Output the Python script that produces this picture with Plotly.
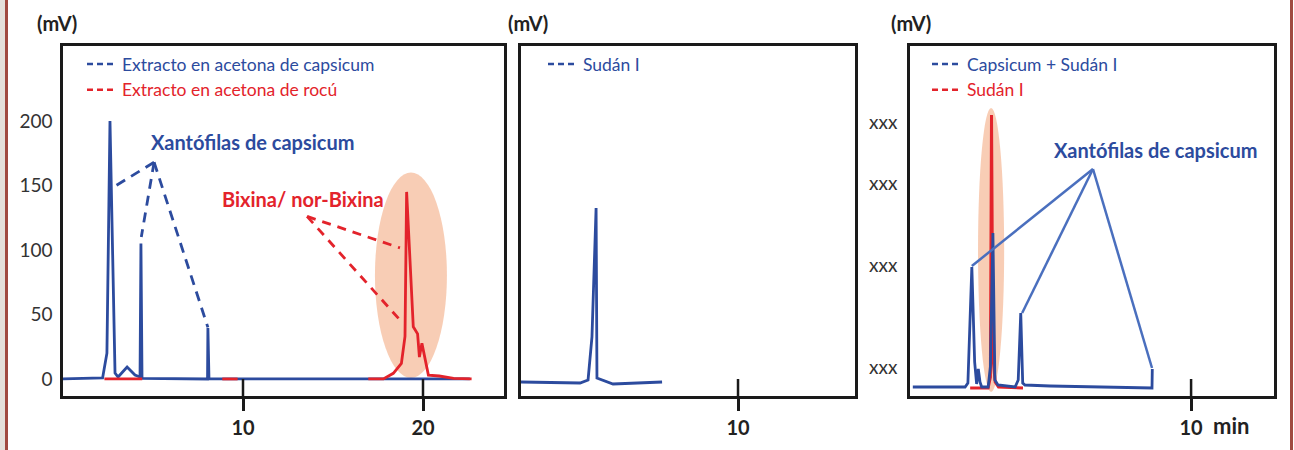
import plotly.graph_objects as go

# ---------------- data ----------------
# Panel 1: chromatograms (time in min, signal in mV)
p1_capsicum_t = [0, 2.2, 2.44, 2.61, 2.89, 3.06, 3.56, 4.0, 4.28, 4.33, 4.39, 8.03, 8.05, 8.11, 22.6]
p1_capsicum_mv = [0, 0.8, 20, 200, 4.6, 1.5, 9.3, 3, 1.5, 105, 0.5, 0, 39.5, 0, 0]
p1_rocu_t = [2.3, 4.4, None, 8.85, 9.7, None, 16.96, 17.8, 18.35, 18.8, 19.0, 19.09, 19.46, 19.7, 19.8, 19.94, 20.3, 20.9, 21.7, 22.7]
p1_rocu_mv = [0, 0, None, 0, 0, None, 0, 0, 4.4, 12, 33, 145, 40.5, 35, 17, 27.6, 3, 2.3, 0.5, 0]
p1_yticks = [0, 50, 100, 150, 200]
p1_xticks = [10, 20]

# Panel 2: Sudán I standard
p2_sudan_t = [0, 2.72, 3.09, 3.27, 3.46, 3.5, 4.24, 6.5]
p2_sudan_mv = [0, -1, 2, 45, 174, 4, -2, 0]
p2_xticks = [10]

# Panel 3: capsicum + Sudán I
p3_mix_t = [0.1, 1.96, 2.06, 2.2, 2.3, 2.37, 2.43, 2.49, 2.55, 2.78, 2.86, 2.95, 3.02, 3.13, 3.74, 3.85, 3.94, 4.01, 4.09, 4.98, 8.61, 8.62]
p3_mix_mv = [0, 0, 4, 120, 25, 3, 18, 5, 0, 0, 20, 154, 7, 2, 0, 7, 74, 4, 2, 1, -1, 18]
p3_sudan_t = [2.14, 2.78, 2.86, 2.9, 2.95, 3.03, 3.15, 4.02]
p3_sudan_mv = [-1, -1, 10, 272, 30, 5, 0, -1]
p3_yticks = [20, 122, 204, 265]
p3_ytext = ["xxx", "xxx", "xxx", "xxx"]
p3_xticks = [10]

# callout leader lines (label apex -> peaks)
p1_xan_apex = (5.06, 168)
p1_xan_targets = [(2.6, 147), (4.35, 110), (8.05, 40)]
p1_bix_apex = (13.56, 126)
p1_bix_targets = [(18.72, 101.6), (18.72, 45.7)]
p3_xan_apex = (6.51, 218)
p3_xan_targets = [(2.2, 121), (3.99, 74), (8.61, 19)]

# ---------------- styles ----------------
BLUE = "#2c4b9e"
LBLUE = "#4a6fbe"
RED = "#e3232b"
PEACH = "rgba(247,196,168,0.85)"
FONT = "Lato, 'Open Sans', sans-serif"
DASH_LEG = "6px,4px"

fig = go.Figure()

# data traces
fig.add_trace(go.Scatter(x=p1_capsicum_t, y=p1_capsicum_mv, mode="lines", line=dict(color=BLUE, width=2.8),
                         xaxis="x", yaxis="y", showlegend=False, hoverinfo="skip"))
fig.add_trace(go.Scatter(x=p1_rocu_t, y=p1_rocu_mv, mode="lines", line=dict(color=RED, width=2.8),
                         xaxis="x", yaxis="y", showlegend=False, hoverinfo="skip", connectgaps=False))
fig.add_trace(go.Scatter(x=p2_sudan_t, y=p2_sudan_mv, mode="lines", line=dict(color=BLUE, width=2.8),
                         xaxis="x2", yaxis="y2", showlegend=False, hoverinfo="skip"))
fig.add_trace(go.Scatter(x=p3_sudan_t, y=p3_sudan_mv, mode="lines", line=dict(color=RED, width=3),
                         xaxis="x3", yaxis="y3", showlegend=False, hoverinfo="skip"))
fig.add_trace(go.Scatter(x=p3_mix_t, y=p3_mix_mv, mode="lines", line=dict(color=BLUE, width=2.8),
                         xaxis="x3", yaxis="y3", showlegend=False, hoverinfo="skip"))

# leader lines
def leaders(apex, targets, xa, ya, color, dash, width):
    for tx, ty in targets:
        fig.add_trace(go.Scatter(x=[apex[0], tx], y=[apex[1], ty], mode="lines",
                                 line=dict(color=color, width=width, dash=dash),
                                 xaxis=xa, yaxis=ya, showlegend=False, hoverinfo="skip"))

leaders(p1_xan_apex, p1_xan_targets, "x", "y", BLUE, "10px,7px", 2.8)
leaders(p1_bix_apex, p1_bix_targets, "x", "y", RED, "9px,7px", 2.8)
leaders(p3_xan_apex, p3_xan_targets, "x3", "y3", LBLUE, "solid", 2.5)

# legend entries
def leg(name, color, legend):
    fig.add_trace(go.Scatter(x=[None], y=[None], mode="lines", name=name,
                             line=dict(color=color, width=2.5, dash=DASH_LEG), legend=legend))

leg("Extracto en acetona de capsicum", BLUE, "legend")
leg(f"<span style='color:{RED}'>Extracto en acetona de rocú</span>", RED, "legend")
leg("Sudán I", BLUE, "legend2")
leg("Capsicum + Sudán I", BLUE, "legend3")
leg(f"<span style='color:{RED}'>Sudán I</span>", RED, "legend3")

W, H = 1294, 450
ydom = [1 - 396 / H, 1 - 46 / H]
doms = [[63 / W, 504 / W], [521 / W, 855 / W], [910 / W, 1274 / W]]

axis_common = dict(showline=True, mirror=True, linecolor="#1a1a1a", linewidth=2.5,
                   showgrid=False, zeroline=False)
xaxis_common = dict(axis_common, ticks="outside", ticklen=12, tickwidth=2.5, tickcolor="#1a1a1a",
                    tickfont=dict(family=FONT, size=20, color="#222", weight="bold"),
                    ticklabelstandoff=0)

legend_common = dict(bgcolor="rgba(0,0,0,0)", borderwidth=0, xanchor="left", yanchor="top",
                     font=dict(family=FONT, size=17.5, color=BLUE), itemwidth=30, tracegroupgap=0)

fig.update_layout(
    width=W, height=H, autosize=False,
    margin=dict(l=0, r=0, t=0, b=0),
    paper_bgcolor="white", plot_bgcolor="white",
    font=dict(family=FONT, color="#222"),
    xaxis=dict(xaxis_common, domain=doms[0], range=[0, 24.5], tickvals=p1_xticks, anchor="y"),
    yaxis=dict(axis_common, domain=ydom, range=[-13.2, 258.1], tickvals=p1_yticks, ticks="",
               tickfont=dict(family=FONT, size=19, color="#333"), anchor="x", ticklabelstandoff=4),
    xaxis2=dict(xaxis_common, domain=doms[1], range=[0, 15.39], tickvals=p2_xticks, anchor="y2"),
    yaxis2=dict(axis_common, domain=ydom, range=[-14, 336], showticklabels=False, ticks="", anchor="x2"),
    xaxis3=dict(xaxis_common, domain=doms[2], range=[0, 12.95], tickvals=p3_xticks, anchor="y3"),
    yaxis3=dict(axis_common, domain=ydom, range=[-9, 341], tickvals=p3_yticks, ticktext=p3_ytext,
                ticks="", tickfont=dict(family=FONT, size=19, color="#333"), anchor="x3", ticklabelstandoff=6),
    legend=dict(legend_common, x=82 / W, y=1 - 46 / H),
    legend2=dict(legend_common, x=543 / W, y=1 - 46 / H),
    legend3=dict(legend_common, x=927 / W, y=1 - 46 / H),
)

shapes = []
# peach highlight ellipses
shapes.append(dict(type="circle", xref="x", yref="y", x0=17.33, x1=21.33, y0=0.8, y1=160,
                   fillcolor=PEACH, line=dict(width=0), layer="below"))
shapes.append(dict(type="circle", xref="x3", yref="y3", x0=2.42, x1=3.35, y0=-5, y1=279,
                   fillcolor=PEACH, line=dict(width=0), layer="below"))
# inner part of the crossing x ticks
for xa, ya, ticks in [("x", "y", p1_xticks), ("x2", "y2", p2_xticks), ("x3", "y3", p3_xticks)]:
    for t in ticks:
        shapes.append(dict(type="line", xref=xa, yref=f"{ya} domain", x0=t, x1=t, y0=0, y1=17 / 350,
                           line=dict(color="#1a1a1a", width=2.5)))
# page frame
shapes.append(dict(type="rect", xref="paper", yref="paper", x0=0, x1=5 / W, y0=0, y1=1,
                   fillcolor="#e4e0da", line=dict(width=0)))
shapes.append(dict(type="line", xref="paper", yref="paper", x0=6.5 / W, x1=6.5 / W, y0=0, y1=1,
                   line=dict(color="#a04a40", width=3)))
shapes.append(dict(type="line", xref="paper", yref="paper", x0=1291.5 / W, x1=1291.5 / W, y0=0, y1=1,
                   line=dict(color="#a04a40", width=3)))
fig.update_layout(shapes=shapes)

ann = []
for xr, xc in [("x domain", (57 - 63) / 441), ("x2 domain", (528 - 521) / 334), ("x3 domain", (911 - 910) / 364)]:
    ann.append(dict(text="(mV)", xref=xr, yref="paper", x=xc, y=1 - 23 / H, showarrow=False,
                    font=dict(family=FONT, size=20, color="#222", weight="bold"), xanchor="center", yanchor="middle"))
ann.append(dict(text="Xantófilas de capsicum", xref="x", yref="y", x=4.78, y=183.7, showarrow=False,
                xanchor="left", yanchor="middle", font=dict(family=FONT, size=20, color=BLUE, weight="bold")))
ann.append(dict(text="Bixina/ nor-Bixina", xref="x", yref="y", x=8.72, y=139.5, showarrow=False,
                xanchor="left", yanchor="middle", font=dict(family=FONT, size=20, color=RED, weight="bold")))
ann.append(dict(text="Xantófilas de capsicum", xref="x3", yref="y3", x=5.05, y=237, showarrow=False,
                xanchor="left", yanchor="middle", font=dict(family=FONT, size=20, color=BLUE, weight="bold")))
ann.append(dict(text="min", xref="x3", yref="paper", x=10.7, y=1 - 425 / H, showarrow=False,
                xanchor="left", yanchor="middle", font=dict(family=FONT, size=22, color="#222", weight="bold")))
fig.update_layout(annotations=ann)

fig.write_html("out.html", config={"displayModeBar": False},
               post_script="document.body.style.margin='0';document.body.style.overflow='hidden';")
